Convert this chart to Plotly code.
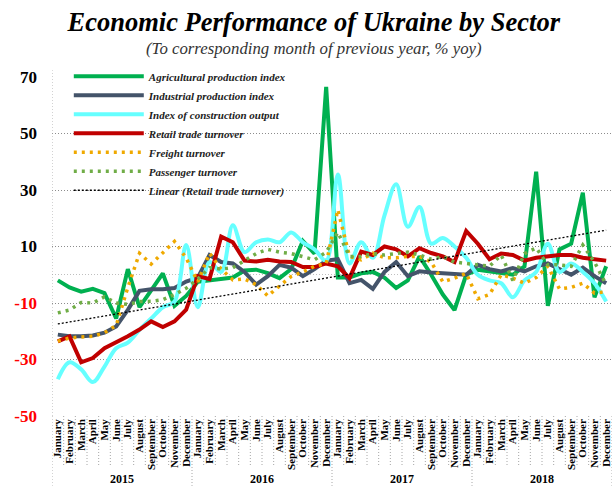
import numpy as np
import plotly.graph_objects as go

years = ["2015", "2016", "2017", "2018"]
month_names = ["January", "February", "March", "April", "May", "June", "July",
               "August", "September", "October", "November", "December"]

agricultural = [-2, -4.5, -6, -5, -6.5, -15.5, 2, -11.5, -5.5, 0.5, -11, -7.5,
                -2.5, -2, -1.8, -1, 1.5, 1.8, 0.6, -1.2, 2, 12, 7.5, 66.5,
                -1, -1, 0.5, 1, -1, -4.7, -2, 6.5, 0, -7, -12.5, 0,
                1.8, 1.2, 0.6, 0, 3, 36.5, -11, 9, 11, 29, -8, 3]
industrial = [-21.2, -21.8, -21.8, -21.5, -20.5, -18.3, -12.4, -5.7, -5.1, -5.1, -4.7, -2.4,
              -1, 7, 4.5, 4, 1, -3.5, -0.5, 3.5, 2.5, -0.5, 2, 5,
              5.5, -3, -1.8, -5, 1, 4.5, -0.5, 1.2, 0.8, 0.5, 0.5, 0,
              3.5, 2, 1.2, 2.4, 1.2, 3, 4, 2, 0, 2.5, -0.5, -3]
construction = [-37, -31, -33.5, -38, -32.5, -26, -24, -19.5, -15.5, -11.5, -9.5, 10.5,
                -11.5, 4.5, 1, 17.5, 8, 11.5, 12.5, 11.5, 15, 11.5, 9, 5,
                35.5, 4, 11.5, 6, 21, 32, 17, 24, 11, 13, 10, 6,
                0, -2, -3, -8, -2, 1, 11, 1, 4, 1, -3, -9.5]
retail = [-23.6, -21.8, -31, -29.5, -26, -24, -21.8, -19.4, -16.5, -18.5, -16.5, -12.4,
          -0.5, -1.5, 13.5, 11.5, 5, 4.7, 5.3, 4.7, 4.5, 2.7, 2.7, 4,
          3, -1.2, 8.2, 7, 10, 9, 6.5, 9.4, 7.7, 6.5, 4.5, 15.5,
          11, 5.5, 7.5, 7, 5, 6, 6.5, 7, 7, 6, 5.5, 5]
freight = [-23.5, -22.4, -22, -21.8, -20.5, -18, -4.5, 7.6, 3.8, 7.6, 11.8, 5.9,
           -2.5, 7.6, 2, -1.8, -1.5, -3.5, -7.5, -4, -0.6, 1, 3, 4,
           23, 6.5, 5.3, 7.6, 6, 6, 6.5, 6.5, 4.5, -2.5, -1.2, 0.5,
           -8.5, -7, 0, -1.2, -3, -1, 3, -5, -4.5, -3, -6.5, -6]
passenger = [-13.5, -12.5, -9.8, -10, -7.8, -10, -10.5, -9.5, -9.4, -8.8, -7, -4.8,
             -1.5, 2.5, 2, 2.5, 5, 7.5, 9, 8, 7.5, 6.5, 5.3, 8,
             15, 6.5, 6.5, 7.5, 7, 7.5, 8, 7, 5.5, 6.5, 4.5, 4,
             3.5, 3, 7, -2, 7.5, 9.5, 3.5, 3.5, 3, 10.5, 4.5, -3.5]

y_ticks = [70, 50, 30, 10, -10, -30, -50]

months = [m for _ in years for m in month_names]
x = list(range(len(months)))

coef = np.polyfit(x, retail, 1)
trend = list(np.polyval(coef, x))

FONT = "Liberation Serif"

fig = go.Figure()
series = [
    ("Agricultural production index", agricultural, "#00B050", "solid", 4, "linear"),
    ("Industrial production index", industrial, "#44546A", "solid", 4, "linear"),
    ("Index of construction output", construction, "#66FFFF", "solid", 4, "spline"),
    ("Retail trade turnover", retail, "#C00000", "solid", 4, "linear"),
    ("Freight turnover", freight, "#EFA900", "3px,5px", 3.5, "linear"),
    ("Passenger turnover", passenger, "#70AD47", "3px,5px", 3.5, "linear"),
    ("Linear (Retail trade turnover)", trend, "#000000", "2px,2px", 1.3, "linear"),
]
for name, vals, color, dash, width, shape in series:
    fig.add_trace(go.Scatter(x=x, y=vals, name=name, mode="lines",
                             line=dict(color=color, width=width, dash=dash, shape=shape)))

ticktext_y = []
for v in y_ticks:
    if v < 0:
        ticktext_y.append(f"<span style='color:#FF0000'>{v}</span>")
    else:
        ticktext_y.append(str(v))

shapes = []
for k in range(len(months) + 1):
    bx = k - 0.5
    is_year = (k % 12 == 0)
    shapes.append(dict(type="line", xref="x", yref="paper", x0=bx, x1=bx,
                       y0=0, y1=-0.206 if is_year else -0.147,
                       line=dict(color="#A6A6A6", width=1, dash="1px,2px")))
shapes.append(dict(type="line", xref="x", yref="paper", x0=-0.5, x1=-0.5,
                   y0=0, y1=1.02, line=dict(color="#A6A6A6", width=1, dash="1px,2px")))

annotations = []
for j, yr in enumerate(years):
    annotations.append(dict(x=j * 12 + 5.5, y=-0.186, xref="x", yref="paper",
                            text=yr, showarrow=False, yanchor="middle",
                            font=dict(family=FONT, size=12, color="black", weight="bold")))
annotations.append(dict(x=0.468, y=1.0855, xref="paper", yref="paper",
                        text="(To corresponding month of previous year, % yoy)",
                        showarrow=False, yanchor="middle",
                        font=dict(family=FONT, size=16.8, color="#333333", style="italic")))

fig.update_layout(
    width=614, height=486,
    margin=dict(l=52, r=2, t=77, b=70),
    paper_bgcolor="white", plot_bgcolor="white",
    title=dict(text="Economic Performance of Ukraine by Sector", x=0.511, xanchor="center",
               y=(486 - 22) / 486, yanchor="middle", yref="container",
               font=dict(family=FONT, size=26.5, color="black", weight="bold", style="italic")),
    xaxis=dict(range=[-0.5, len(months) - 0.5], tickmode="array", tickvals=x, ticktext=months,
               tickangle=-90, showgrid=False, zeroline=False, showline=False, ticks="",
               automargin=False,
               tickfont=dict(family=FONT, size=11, color="black", weight="bold")),
    yaxis=dict(range=[-50, 70], tickmode="array", tickvals=y_ticks, ticktext=ticktext_y,
               showgrid=True, gridcolor="#8C8C8C", griddash="1px,2px", gridwidth=1,
               zeroline=False, showline=False, ticks="", ticklabelstandoff=14,
               automargin=False,
               minor=dict(tickvals=[0], showgrid=True, gridcolor="#BFBFBF",
                          griddash="1px,2px", gridwidth=1),
               tickfont=dict(family=FONT, size=17, color="black", weight="bold")),
    legend=dict(x=0.03, y=1.045, xanchor="left", yanchor="top", bgcolor="rgba(0,0,0,0)",
                itemwidth=70, tracegroupgap=0,
                font=dict(family=FONT, size=11, color="#222222", weight="bold", style="italic")),
    shapes=shapes,
    annotations=annotations,
)

fig.write_html("out.html", config={"displayModeBar": False},
               post_script="document.body.style.margin='0px';")
